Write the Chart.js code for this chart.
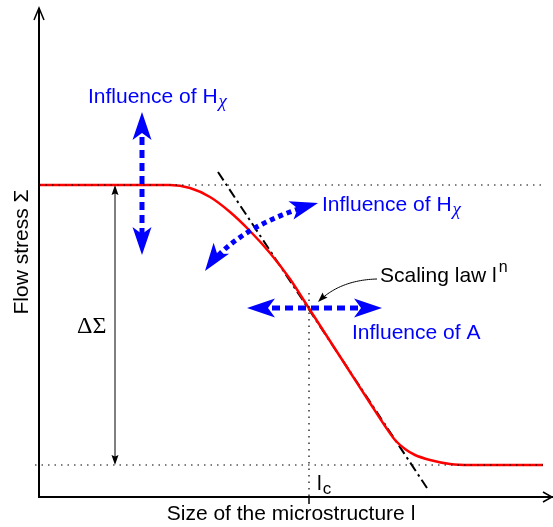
<!DOCTYPE html>
<html>
<head>
<meta charset="utf-8">
<script src="https://cdn.jsdelivr.net/npm/chart.js@4/dist/chart.umd.min.js"></script>
<style>
  html, body { margin: 0; padding: 0; background: #fff; }
  #wrap { width: 553px; height: 527px; position: relative; }
</style>
</head>
<body>
<div id="wrap"><canvas id="c"></canvas></div>
<script>
// Size effect on flow stress (schematic, arbitrary units)
const sizeValues   = [0, 131, 151, 171, 191, 211, 231, 251, 271, 291, 311, 331, 346, 356, 366, 376, 391, 411, 431, 504];
const stressValues = [312, 312, 309, 300, 285, 266, 244, 218, 187, 156, 125, 94, 71, 57, 48, 42, 37, 33, 32, 32];

// Scaling law l^n (straight asymptote of the transition)
const scalingSize   = [179, 388];
const scalingStress = [325, 9];

// Plateau levels, their extent and the characteristic size l_c
const upperPlateau = 312;
const lowerPlateau = 32;
const upperSpan = [0, 504];
const lowerSpan = [-4, 504];
const characteristicSize = 270;
const characteristicTop = 204;

// Axis extents
const xMax = 514;
const yMax = 489;

const BLUE = '#0000ff';
const RED = '#ff0000';
const SANS = '"Liberation Sans", Arial, Helvetica, sans-serif';
const SERIF = '"Liberation Serif", "Times New Roman", serif';

const pts = (xs, ys) => xs.map((v, i) => ({ x: v, y: ys[i] }));
const lineSet = (data, color, width, dash, extra) => Object.assign({
  data, borderColor: color, borderWidth: width, borderDash: dash || [],
  showLine: true, pointRadius: 0, pointHoverRadius: 0, fill: false, clip: false
}, extra || {});

// Parameter-influence arrows and annotations (data units)
const arrows = {
  hardeningVertical: { from: [103, 385], to: [103, 242] },
  hardeningCurve:    { from: [166, 226], ctrl: [199, 272], to: [279, 294] },
  amplitude:         { from: [208, 189], to: [343, 189] },
  scalingPointer:    { from: [338, 218], ctrl: [301, 217], to: [279, 195] },
  deltaSigma:        { x: 76 }
};

function stealthHead(ctx, tx, ty, ang, len, half, notch) {
  const c = Math.cos(ang), s = Math.sin(ang);
  const bx = tx - c * len, by = ty - s * len;
  ctx.beginPath();
  ctx.moveTo(tx, ty);
  ctx.lineTo(bx - s * half, by + c * half);
  ctx.lineTo(tx - c * (len - notch), ty - s * (len - notch));
  ctx.lineTo(bx + s * half, by - c * half);
  ctx.closePath();
  ctx.fill();
}

function quadPoint(p0, p1, p2, t) {
  const u = 1 - t;
  return [u * u * p0[0] + 2 * u * t * p1[0] + t * t * p2[0],
          u * u * p0[1] + 2 * u * t * p1[1] + t * t * p2[1]];
}

function subText(ctx, main, sub, x, y, mainFont, subFont, dy, gap) {
  ctx.font = mainFont;
  ctx.fillText(main, x, y);
  const w = ctx.measureText(main).width;
  ctx.font = subFont;
  ctx.fillText(sub, x + w + gap, y + dy);
}

const schematic = {
  id: 'schematic',
  afterDatasetsDraw(chart) {
    const { ctx, scales: { x, y } } = chart;
    const X = v => x.getPixelForValue(v);
    const Y = v => y.getPixelForValue(v);
    const P = p => [X(p[0]), Y(p[1])];
    ctx.save();

    // Axes with open arrow tips
    ctx.strokeStyle = '#000';
    ctx.lineWidth = 2;
    ctx.lineCap = 'butt';
    ctx.beginPath();
    ctx.moveTo(X(0), Y(yMax));
    ctx.lineTo(X(0), Y(0));
    ctx.lineTo(X(xMax), Y(0));
    ctx.stroke();
    ctx.lineWidth = 1.5;
    ctx.beginPath();
    ctx.moveTo(X(0) - 5, Y(yMax) + 12);
    ctx.lineTo(X(0), Y(yMax));
    ctx.lineTo(X(0) + 5, Y(yMax) + 12);
    ctx.moveTo(X(xMax) - 10, Y(0) - 5);
    ctx.lineTo(X(xMax) - 1, Y(0));
    ctx.lineTo(X(xMax) - 10, Y(0) + 5);
    ctx.stroke();

    // Tick at l_c
    ctx.lineWidth = 1.5;
    ctx.beginPath();
    ctx.moveTo(X(characteristicSize), Y(0));
    ctx.lineTo(X(characteristicSize), Y(0) + 7);
    ctx.stroke();

    // Delta Sigma double arrow
    const dx = X(arrows.deltaSigma.x);
    const yt = Y(upperPlateau), yb = Y(lowerPlateau);
    ctx.lineWidth = 1;
    ctx.beginPath();
    ctx.moveTo(dx, yt + 6);
    ctx.lineTo(dx, yb - 6);
    ctx.stroke();
    ctx.fillStyle = '#000';
    stealthHead(ctx, dx, yt, -Math.PI / 2, 10, 3.5, 1.5);
    stealthHead(ctx, dx, yb, Math.PI / 2, 10, 3.5, 1.5);

    // Pointer to the scaling law
    {
      const a = arrows.scalingPointer;
      const p0 = P(a.from), p1 = P(a.ctrl), p2 = P(a.to);
      ctx.beginPath();
      ctx.moveTo(p0[0], p0[1]);
      for (let i = 1; i <= 30; i++) {
        const q = quadPoint(p0, p1, p2, i / 30 * 0.88);
        ctx.lineTo(q[0], q[1]);
      }
      ctx.stroke();
      const ang = Math.atan2(p2[1] - p1[1], p2[0] - p1[0]);
      stealthHead(ctx, p2[0], p2[1], ang, 10, 3.5, 1.5);
    }

    // Blue influence arrows
    ctx.strokeStyle = BLUE;
    ctx.fillStyle = BLUE;
    const HL = 28, HH = 9.5, HN = 7;
    const straight = (a, dash) => {
      const p0 = P(a.from), p1 = P(a.to);
      const ang = Math.atan2(p1[1] - p0[1], p1[0] - p0[0]);
      const c = Math.cos(ang), s = Math.sin(ang);
      ctx.lineWidth = 5;
      ctx.setLineDash(dash);
      ctx.beginPath();
      ctx.moveTo(p0[0] + c * 12, p0[1] + s * 12);
      ctx.lineTo(p1[0] - c * 12, p1[1] - s * 12);
      ctx.stroke();
      ctx.setLineDash([]);
      stealthHead(ctx, p1[0], p1[1], ang, HL, HH, HN);
      stealthHead(ctx, p0[0], p0[1], ang + Math.PI, HL, HH, HN);
    };
    straight(arrows.hardeningVertical, [8, 5]);
    straight(arrows.amplitude, [8, 5]);
    {
      const a = arrows.hardeningCurve;
      const p0 = P(a.from), p1 = P(a.ctrl), p2 = P(a.to);
      ctx.lineWidth = 5;
      ctx.setLineDash([5, 4]);
      ctx.beginPath();
      const t0 = 0.1, t1 = 0.92;
      for (let i = 0; i <= 50; i++) {
        const q = quadPoint(p0, p1, p2, t0 + (t1 - t0) * i / 50);
        if (i === 0) ctx.moveTo(q[0], q[1]); else ctx.lineTo(q[0], q[1]);
      }
      ctx.stroke();
      ctx.setLineDash([]);
      stealthHead(ctx, p0[0], p0[1], Math.atan2(p0[1] - p1[1], p0[0] - p1[0]), HL, HH, HN);
      stealthHead(ctx, p2[0], p2[1], Math.atan2(p2[1] - p1[1], p2[0] - p1[0]), HL, HH, HN);
    }

    // Labels
    ctx.textBaseline = 'alphabetic';
    ctx.textAlign = 'left';
    const F = '21px ' + SANS;
    const FX = 'italic 19px ' + SERIF;
    ctx.fillStyle = BLUE;
    subText(ctx, 'Influence of H', 'χ', X(49), Y(394), F, FX, 4, 1);
    subText(ctx, 'Influence of H', 'χ', X(283), Y(286), F, FX, 4, 1);
    ctx.font = F;
    ctx.fillText('Influence of A', X(313), Y(158));

    ctx.fillStyle = '#000';
    ctx.font = F;
    ctx.fillText('Scaling law l', X(341), Y(215));
    const wS = ctx.measureText('Scaling law l').width;
    ctx.font = '16px ' + SANS;
    ctx.fillText('n', X(341) + wS + 2, Y(215) - 10);

    subText(ctx, 'l', 'c', X(278), Y(7), F, '17px ' + SANS, 4, 1);

    ctx.font = '24px ' + SERIF;
    ctx.fillText('ΔΣ', X(38), Y(164));

    // Axis titles
    ctx.font = F;
    ctx.textAlign = 'center';
    ctx.fillText('Size of the microstructure l', X(252), Y(0) + 23);
    ctx.save();
    ctx.translate(28, Y(245));
    ctx.rotate(-Math.PI / 2);
    ctx.fillText('Flow stress Σ', 0, 0);
    ctx.restore();

    ctx.restore();
  }
};

new Chart(document.getElementById('c'), {
  type: 'scatter',
  data: {
    datasets: [
      lineSet(pts(upperSpan, [upperPlateau, upperPlateau]), '#000', 1.2, [1.5, 5]),
      lineSet(pts(lowerSpan, [lowerPlateau, lowerPlateau]), '#000', 1.2, [1.5, 5]),
      lineSet(pts([characteristicSize, characteristicSize], [characteristicTop, 0]), '#000', 1.2, [1.5, 5]),
      lineSet(pts(sizeValues, stressValues), RED, 2.5, [], { cubicInterpolationMode: 'monotone' }),
      lineSet(pts(scalingSize, scalingStress), '#000', 2, [10, 4, 2.5, 4])
    ]
  },
  options: {
    responsive: true,
    maintainAspectRatio: false,
    animation: false,
    events: [],
    layout: { padding: { left: 39, top: 8, right: 0, bottom: 30 } },
    plugins: { legend: { display: false }, tooltip: { enabled: false } },
    scales: {
      x: { type: 'linear', min: 0, max: xMax, display: false },
      y: { type: 'linear', min: 0, max: yMax, display: false }
    }
  },
  plugins: [schematic]
});
</script>
</body>
</html>
